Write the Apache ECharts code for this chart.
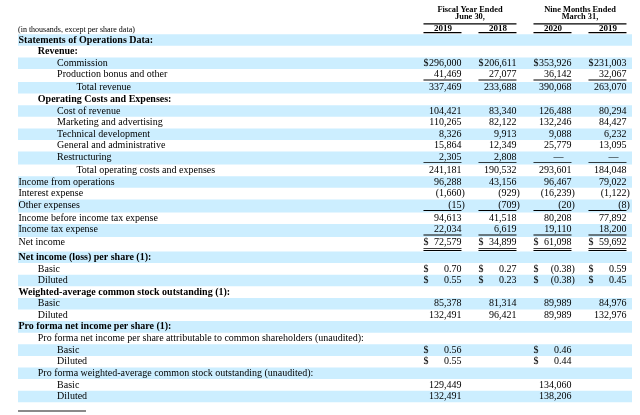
<!DOCTYPE html>
<html><head><meta charset="utf-8">
<script src="https://cdn.jsdelivr.net/npm/echarts@6/dist/echarts.min.js"></script>
<style>html,body{margin:0;padding:0;background:#fff}#c{width:640px;height:415px}</style>
</head><body><div id="c"></div>
<script>
// ---------- data ----------
const rowLabels = [
  'Statements of Operations Data:', 'Revenue:', 'Commission', 'Production bonus and other', 'Total revenue',
  'Operating Costs and Expenses:', 'Cost of revenue', 'Marketing and advertising', 'Technical development',
  'General and administrative', 'Restructuring', 'Total operating costs and expenses', 'Income from operations',
  'Interest expense', 'Other expenses', 'Income before income tax expense', 'Income tax expense', 'Net income',
  'Net income (loss) per share (1):', 'Basic', 'Diluted', 'Weighted-average common stock outstanding (1):',
  'Basic', 'Diluted', 'Pro forma net income per share (1):',
  'Pro forma net income per share attributable to common shareholders (unaudited):', 'Basic', 'Diluted',
  'Pro forma weighted-average common stock outstanding (unaudited):', 'Basic', 'Diluted'
];
const columnYears = ['2019', '2018', '2020', '2019'];
const groupTitles = [['Fiscal Year Ended', 'June 30,'], ['Nine Months Ended', 'March 31,']];
const unitNote = '(in thousands, except per share data)';

const fy2019 = [null, null, 296000, 41469, 337469, null, 104421, 110265, 8326, 15864, 2305, 241181, 96288, -1660, -15, 94613, 22034, 72579, null, 0.70, 0.55, null, 85378, 132491, null, null, 0.56, 0.55, null, 129449, 132491];
const fy2018 = [null, null, 206611, 27077, 233688, null, 83340, 82122, 9913, 12349, 2808, 190532, 43156, -929, -709, 41518, 6619, 34899, null, 0.27, 0.23, null, 81314, 96421, null, null, null, null, null, null, null];
const nm2020 = [null, null, 353926, 36142, 390068, null, 126488, 132246, 9088, 25779, 0, 293601, 96467, -16239, -20, 80208, 19110, 61098, null, -0.38, -0.38, null, 89989, 89989, null, null, 0.46, 0.44, null, 134060, 138206];
const nm2019 = [null, null, 231003, 32067, 263070, null, 80294, 84427, 6232, 13095, 0, 184048, 79022, -1122, -8, 77892, 18200, 59692, null, 0.59, 0.45, null, 84976, 132976, null, null, null, null, null, null, null];
const columnValues = [fy2019, fy2018, nm2020, nm2019];

// ---------- row formatting (layout, not data) ----------
const rowIndent = [0,1,2,2,3,1,2,2,2,2,2,3,0,0,0,0,0,0,0,1,1,0,1,1,0,1,2,2,1,2,2];
const boldRows = [0, 1, 5, 18, 21, 24];
const dollarRows = [2, 17, 19, 20, 26, 27];
const epsRows = [19, 20, 26, 27];
const singleRuleRows = [3, 10, 14, 16];
const doubleRuleRows = [17];
// relative row heights: rows carrying a rule are a bit taller
const rowSpan = rowLabels.map((_, i) => singleRuleRows.indexOf(i) >= 0 ? 1.12 : (doubleRuleRows.indexOf(i) >= 0 ? 1.25 : 1));
const rowStart = [];
rowSpan.reduce((acc, s, i) => { rowStart[i] = acc; return acc + s; }, 0);
const spanTotal = rowSpan.reduce((a, b) => a + b, 0);

const FONT = '"Liberation Serif", "Times New Roman", serif';
const FS = 10;
const STRIPE = '#cceeff';

function fmt(v, eps) {
  if (v === 0) return '\u2014';
  const a = Math.abs(v);
  return eps ? a.toFixed(2) : a.toLocaleString('en-US');
}
function txt(x, y, text, align) {
  return { type: 'text', x: x, y: y,
    style: { text: text, fill: '#000', fontFamily: FONT, fontSize: FS, align: align, verticalAlign: 'middle' } };
}
function rowText(r) { return rowStart[r] + 0.5; }

const GT = 34.2, GH = 368.1;
const colCats = columnYears.map((_, i) => i);

const chart = echarts.init(document.getElementById('c'), null, { renderer: 'canvas' });

const valueData = [];
columnValues.forEach((arr, c) => arr.forEach((v, r) => { if (v !== null) valueData.push([c, rowText(r), v, r]); }));

chart.setOption({
  animation: false,
  grid: [
    { left: 18, right: 8, top: GT, height: GH },
    { left: 415.5, width: 220, top: GT, height: GH }
  ],
  xAxis: [
    { gridIndex: 0, type: 'value', min: 0, max: 1, show: false },
    { gridIndex: 1, type: 'category', data: columnYears, position: 'top',
      axisLine: { show: false }, axisTick: { show: false }, splitLine: { show: false },
      axisLabel: { show: true, margin: 6, verticalAlign: 'middle', fontFamily: FONT, fontSize: 9, fontWeight: 'bold', color: '#000' } }
  ],
  yAxis: [
    { gridIndex: 0, type: 'value', min: 0, max: spanTotal, inverse: true, show: false },
    { gridIndex: 1, type: 'value', min: 0, max: spanTotal, inverse: true, show: false }
  ],
  graphic: [
    { type: 'text', left: 18, top: 25.5, style: { text: unitNote, fontFamily: FONT, fontSize: 8, fill: '#000' } },
    { type: 'rect', shape: { x: 18, y: 410, width: 68, height: 2 }, style: { fill: '#8a8a8a' } }
  ],
  series: [
    { // stripes
      type: 'custom', xAxisIndex: 0, yAxisIndex: 0, z: 1,
      data: rowLabels.map((_, i) => i).filter(i => i % 2 === 0).map(i => [0, rowStart[i], rowStart[i] + rowSpan[i]]),
      renderItem: function (params, api) {
        const p0 = api.coord([0, api.value(1)]);
        const p1 = api.coord([1, api.value(2)]);
        return { type: 'rect', shape: { x: p0[0], y: p0[1], width: p1[0] - p0[0], height: p1[1] - p0[1] },
                 style: { fill: STRIPE } };
      }
    },
    { // row labels
      type: 'custom', xAxisIndex: 0, yAxisIndex: 0, z: 3,
      data: rowLabels.map((_, i) => [0, rowText(i), i]),
      renderItem: function (params, api) {
        const r = api.value(2);
        const p = api.coord([0, api.value(1)]);
        const t = txt(p[0] + rowIndent[r] * 19.3 + 0.5, p[1], rowLabels[r], 'left');
        if (boldRows.indexOf(r) >= 0) t.style.fontWeight = 'bold';
        return t;
      }
    },
    { // values
      type: 'custom', xAxisIndex: 1, yAxisIndex: 1, z: 3,
      data: valueData,
      renderItem: function (params, api) {
        const c = api.value(0), v = api.value(2), r = api.value(3);
        const p = api.coord([c, api.value(1)]);
        const top = api.coord([c, rowStart[r]])[1];
        const bw = api.size([1, 0])[0];
        const right = p[0] + bw * 0.336;
        const left = p[0] - bw * 0.355;
        const eps = epsRows.indexOf(r) >= 0;
        const kids = [];
        if (v === 0) {
          kids.push(txt(right - 8, p[1], '\u2014', 'right'));
        } else if (v < 0) {
          kids.push(txt(right, p[1], '(' + fmt(v, eps), 'right'));
          kids.push(txt(right, p[1], ')', 'left'));
        } else {
          kids.push(txt(right, p[1], fmt(v, eps), 'right'));
        }
        if (dollarRows.indexOf(r) >= 0) kids.push(txt(left, p[1], '$', 'left'));
        if (singleRuleRows.indexOf(r) >= 0) {
          kids.push({ type: 'rect', shape: { x: left, y: top + 10.6, width: right - left, height: 0.9 }, style: { fill: '#000' } });
        }
        if (doubleRuleRows.indexOf(r) >= 0) {
          kids.push({ type: 'rect', shape: { x: left, y: top + 11.2, width: right - left, height: 0.9 }, style: { fill: '#000' } });
          kids.push({ type: 'rect', shape: { x: left, y: top + 13.0, width: right - left, height: 0.9 }, style: { fill: '#000' } });
        }
        return { type: 'group', children: kids };
      }
    },
    { // year underlines
      type: 'custom', xAxisIndex: 1, yAxisIndex: 1, z: 3,
      data: colCats.map(c => [c, 0]),
      renderItem: function (params, api) {
        const p = api.coord([api.value(0), 0]);
        const bw = api.size([1, 0])[0];
        const left = p[0] - bw * 0.355, right = p[0] + bw * 0.336;
        return { type: 'rect', shape: { x: left, y: p[1] - 2.3, width: right - left, height: 1.4 }, style: { fill: '#000' } };
      }
    },
    { // group titles
      type: 'custom', xAxisIndex: 1, yAxisIndex: 1, z: 3,
      data: [[0, 0, 1], [2, 0, 3]],
      renderItem: function (params, api) {
        const g = params.dataIndex;
        const a = api.coord([api.value(0), 0]);
        const b = api.coord([api.value(2), 0]);
        const bw = api.size([1, 0])[0];
        const left = a[0] - bw * 0.355, right = b[0] + bw * 0.336;
        const cx = (left + right) / 2;
        const top = a[1];
        const t1 = txt(cx, top - 24.5, groupTitles[g][0], 'center');
        const t2 = txt(cx, top - 17, groupTitles[g][1], 'center');
        [t1, t2].forEach(t => { t.style.fontWeight = 'bold'; t.style.fontSize = 8.4; });
        return { type: 'group', children: [t1, t2,
          { type: 'rect', shape: { x: left, y: top - 11, width: right - left, height: 1.3 }, style: { fill: '#000' } }] };
      }
    }
  ]
});
</script>
</body></html>
